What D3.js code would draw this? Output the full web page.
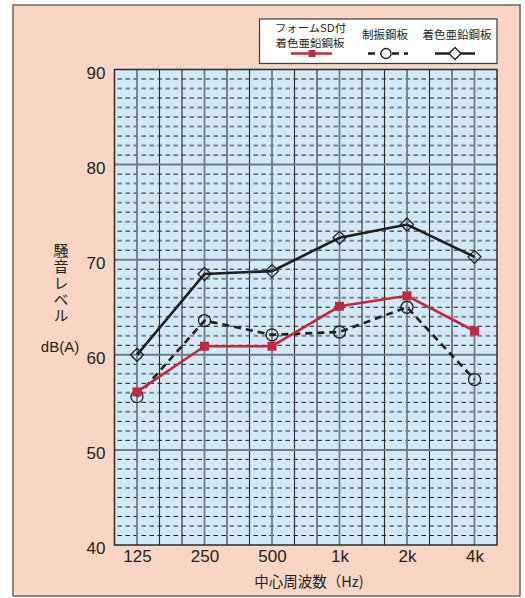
<!DOCTYPE html>
<html><head><meta charset="utf-8">
<script src="https://cdn.jsdelivr.net/npm/d3@7"></script>
<style>
html,body{margin:0;padding:0;background:#fff;}
svg{display:block;}
text{font-family:"Liberation Sans Narrow","Liberation Sans",Arial,sans-serif;fill:#231f20;}
.jp{font-family:"Noto Sans CJK JP","Noto Sans",sans-serif;}
</style></head><body>
<svg id="c" width="525" height="598"></svg>
<script>
const freqs = [125, 250, 500, 1000, 2000, 4000];
const freqLabels = ["125", "250", "500", "1k", "2k", "4k"];
const foamSD = [56.1, 60.9, 60.9, 65.1, 66.2, 62.5];
const damping = [55.6, 63.6, 62.1, 62.4, 65.0, 57.4];
const coated = [60.0, 68.5, 68.8, 72.3, 73.7, 70.3];
const yTicks = [40, 50, 60, 70, 80, 90];
const seriesNames = [["フォームSD付", "着色亜鉛鋼板"], ["制振鋼板"], ["着色亜鉛鋼板"]];

const svg = d3.select("#c");
const L = 114.5, R = 497, T = 69.5, B = 545;

// frame
svg.append("rect").attr("x", 13).attr("y", 5).attr("width", 507).attr("height", 591)
  .attr("fill", "#f9d6c4").attr("stroke", "#6d6466").attr("stroke-width", 1.5);

const third = Math.pow(2, 1/3);
const x = d3.scaleLog().base(2).domain([125 / third, 125 * Math.pow(2, 16/3)]).range([L, R]);
const y = d3.scaleLinear().domain([40, 90]).range([B, T]);

svg.append("rect").attr("x", L).attr("y", T).attr("width", R - L).attr("height", B - T)
  .attr("fill", "#d2e9f7");

const g = svg.append("g");
// minor horizontal dashed lines
const minor = d3.range(41, 90).filter(v => v % 10 !== 0);
g.selectAll(".hm").data(minor).join("line")
  .attr("x1", L).attr("x2", R).attr("y1", d => y(d)).attr("y2", d => y(d))
  .attr("stroke", d => d % 2 ? "#1e1e1e" : "#7d8790")
  .attr("stroke-width", d => d % 2 ? 1 : 2)
  .attr("stroke-dasharray", "4.5,3.5")
  .attr("stroke-dashoffset", -3);
// vertical lines at third-octave boundaries
const vlines = d3.range(1, 17).map(k => 125 * Math.pow(2, (k - 1) / 3));
g.selectAll(".vl").data(vlines).join("line")
  .attr("x1", d => x(d)).attr("x2", d => x(d)).attr("y1", T).attr("y2", B)
  .attr("stroke", (d, i) => (i % 3 === 0) ? "#6f7d8a" : "#2a2a2a")
  .attr("stroke-width", (d, i) => (i % 3 === 0) ? 1.8 : 1.1);
// major horizontal lines
g.selectAll(".hM").data(yTicks.filter(v => v > 40 && v < 90)).join("line")
  .attr("x1", L).attr("x2", R).attr("y1", d => y(d)).attr("y2", d => y(d))
  .attr("stroke", "#6f7d8a").attr("stroke-width", 2);

svg.append("rect").attr("x", L).attr("y", T).attr("width", R - L).attr("height", B - T)
  .attr("fill", "none").attr("stroke", "#2a2a2a").attr("stroke-width", 1.5);

// axes
const yAxis = d3.axisLeft(y).tickValues(yTicks).tickSize(0).tickPadding(9).tickFormat(d3.format("d"));
const ya = svg.append("g").attr("transform", `translate(${L},0)`).call(yAxis);
ya.select(".domain").remove();
ya.selectAll("text").attr("font-size", 17).attr("dy", "0.5em")
  .style("font-family", '"Liberation Sans Narrow","Liberation Sans",sans-serif').attr("fill", "#231f20");

const xAxis = d3.axisBottom(x).tickValues(freqs).tickSize(0).tickPadding(5)
  .tickFormat((d, i) => freqLabels[i]);
const xa = svg.append("g").attr("transform", `translate(0,${B})`).call(xAxis);
xa.select(".domain").remove();
xa.selectAll("text").attr("font-size", 17).attr("dy", "0.72em")
  .style("font-family", '"Liberation Sans Narrow","Liberation Sans",sans-serif').attr("fill", "#231f20");

// axis titles
svg.append("text").attr("class", "jp").attr("x", 309).attr("y", 587).attr("text-anchor", "middle")
  .attr("font-size", 14.5).text("中心周波数（Hz)");
svg.append("text").attr("class", "jp")
  .attr("x", 61).attr("y", 243)
  .attr("font-size", 15)
  .style("writing-mode", "vertical-rl").style("text-orientation", "upright")
  .attr("letter-spacing", 1.3)
  .text("騒音レベル");
svg.append("text").attr("x", 60).attr("y", 352).attr("text-anchor", "middle")
  .attr("font-size", 15).style("font-family", '"Liberation Sans",sans-serif').text("dB(A)");

// series
const line = d3.line().x((d, i) => x(freqs[i])).y(d => y(d));
svg.append("path").datum(coated).attr("d", line).attr("fill", "none")
  .attr("stroke", "#1e1e1e").attr("stroke-width", 2.6);
svg.append("path").datum(damping).attr("d", line).attr("fill", "none")
  .attr("stroke", "#1e1e1e").attr("stroke-width", 2.6).attr("stroke-dasharray", "7,5");
svg.append("path").datum(foamSD).attr("d", line).attr("fill", "none")
  .attr("stroke", "#c42840").attr("stroke-width", 2.6);

const diamond = "M0,-6.5L6.5,0L0,6.5L-6.5,0Z";
svg.selectAll(".dm").data(coated).join("path")
  .attr("transform", (d, i) => `translate(${x(freqs[i])},${y(d)})`)
  .attr("d", diamond).attr("fill", "none").attr("stroke", "#1e1e1e").attr("stroke-width", 1.3);
svg.selectAll(".ci").data(damping).join("circle")
  .attr("cx", (d, i) => x(freqs[i])).attr("cy", d => y(d)).attr("r", 6)
  .attr("fill", "none").attr("stroke", "#1e1e1e").attr("stroke-width", 1.3);
svg.selectAll(".sq").data(foamSD).join("rect")
  .attr("x", (d, i) => x(freqs[i]) - 4.5).attr("y", d => y(d) - 4.5)
  .attr("width", 9).attr("height", 9).attr("fill", "#c42840");

// legend
const lg = svg.append("g");
lg.append("rect").attr("x", 259.5).attr("y", 19).attr("width", 237.5).attr("height", 44.5)
  .attr("fill", "#ffffff").attr("stroke", "#3a3a3a").attr("stroke-width", 1.2);
lg.append("text").attr("class", "jp").attr("x", 310.5).attr("y", 31.5).attr("text-anchor", "middle")
  .attr("font-size", 10.2).attr("textLength", 71).attr("lengthAdjust", "spacingAndGlyphs")
  .text(seriesNames[0][0]);
lg.append("text").attr("class", "jp").attr("x", 310).attr("y", 46.5).attr("text-anchor", "middle")
  .attr("font-size", 10.2).attr("textLength", 69).attr("lengthAdjust", "spacingAndGlyphs")
  .text(seriesNames[0][1]);
lg.append("text").attr("class", "jp").attr("x", 385).attr("y", 39).attr("text-anchor", "middle")
  .attr("font-size", 11.5).text(seriesNames[1][0]);
lg.append("text").attr("class", "jp").attr("x", 457).attr("y", 39).attr("text-anchor", "middle")
  .attr("font-size", 11.5).text(seriesNames[2][0]);
lg.append("line").attr("x1", 291).attr("x2", 332).attr("y1", 53.5).attr("y2", 53.5)
  .attr("stroke", "#c42840").attr("stroke-width", 2.6);
lg.append("rect").attr("x", 308.5).attr("y", 50).attr("width", 7).attr("height", 7).attr("fill", "#c42840");
lg.append("line").attr("x1", 368).attr("x2", 408).attr("y1", 53.5).attr("y2", 53.5)
  .attr("stroke", "#1e1e1e").attr("stroke-width", 2.6).attr("stroke-dasharray", "7,5");
lg.append("circle").attr("cx", 386).attr("cy", 53.5).attr("r", 5).attr("fill", "#fff")
  .attr("stroke", "#1e1e1e").attr("stroke-width", 1.3);
lg.append("line").attr("x1", 435).attr("x2", 475).attr("y1", 53.5).attr("y2", 53.5)
  .attr("stroke", "#1e1e1e").attr("stroke-width", 2.6);
lg.append("path").attr("transform", "translate(455,53.5)").attr("d", "M0,-6L6,0L0,6L-6,0Z")
  .attr("fill", "#fff").attr("stroke", "#1e1e1e").attr("stroke-width", 1.3);
</script>
</body></html>
